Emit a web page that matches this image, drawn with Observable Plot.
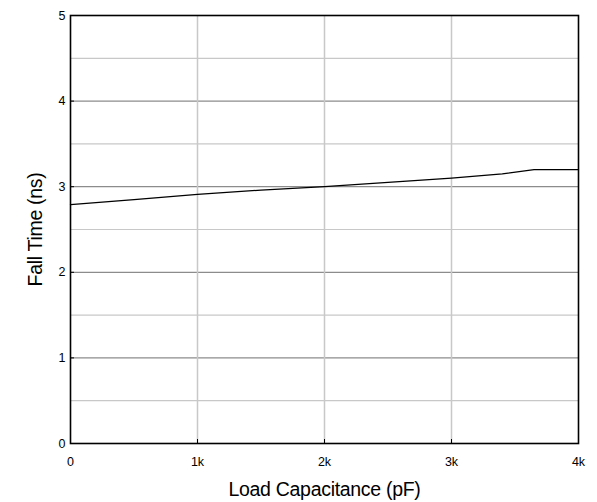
<!DOCTYPE html>
<html><head><meta charset="utf-8">
<script src="https://cdn.jsdelivr.net/npm/d3@7"></script>
<script src="https://cdn.jsdelivr.net/npm/@observablehq/plot@0.6"></script>
<style>
body{margin:0;background:#fff;}
#chart svg{font-family:"Liberation Sans",Arial,sans-serif;}
g[aria-label="x-axis label"] text, g[aria-label="y-axis label"] text{font-size:19.5px;letter-spacing:-0.3px;}
</style>
</head><body><div id="chart"></div>
<script>
const capacitance = [0, 500, 1000, 1500, 2000, 2500, 3000, 3400, 3650, 4000];
const fallTime = [2.79, 2.85, 2.91, 2.96, 3.00, 3.05, 3.10, 3.15, 3.20, 3.20];
const xTicks = [0, 1000, 2000, 3000, 4000];
const xTickLabels = ["0", "1k", "2k", "3k", "4k"];
const yTicks = [0, 1, 2, 3, 4, 5];
const yMinor = [0.5, 1.5, 2.5, 3.5, 4.5];

const data = capacitance.map((c, i) => ({c, t: fallTime[i]}));

const chart = Plot.plot({
  width: 597, height: 502,
  marginLeft: 70, marginRight: 19, marginTop: 15, marginBottom: 59,
  style: {fontSize: "12.5px", color: "#000"},
  x: {domain: [0, 4000]},
  y: {domain: [0, 5]},
  marks: [
    Plot.ruleY(yMinor, {stroke: "#c8c8c8", strokeWidth: 1.2}),
    Plot.ruleY([1, 2, 3, 4], {stroke: "#8c8c8c", strokeWidth: 1.2}),
    Plot.ruleX([1000, 2000, 3000], {stroke: "#c8c8c8", strokeWidth: 1.5}),
    Plot.line(data, {x: "c", y: "t", stroke: "#000", strokeWidth: 1.3}),
    Plot.frame({stroke: "#000", strokeWidth: 1.6}),
    Plot.axisX({ticks: xTicks, tickFormat: (d, i) => xTickLabels[i], tickSize: -4, tickPadding: 18,
      label: "Load Capacitance (pF)", labelAnchor: "center", labelArrow: "none", labelOffset: 52}),
    Plot.axisY({ticks: yTicks, tickFormat: d => String(d), tickSize: -4, tickPadding: 9,
      label: "Fall Time (ns)", labelAnchor: "center", labelArrow: "none", labelOffset: 42})
  ]
});
document.getElementById("chart").append(chart);
</script></body></html>
